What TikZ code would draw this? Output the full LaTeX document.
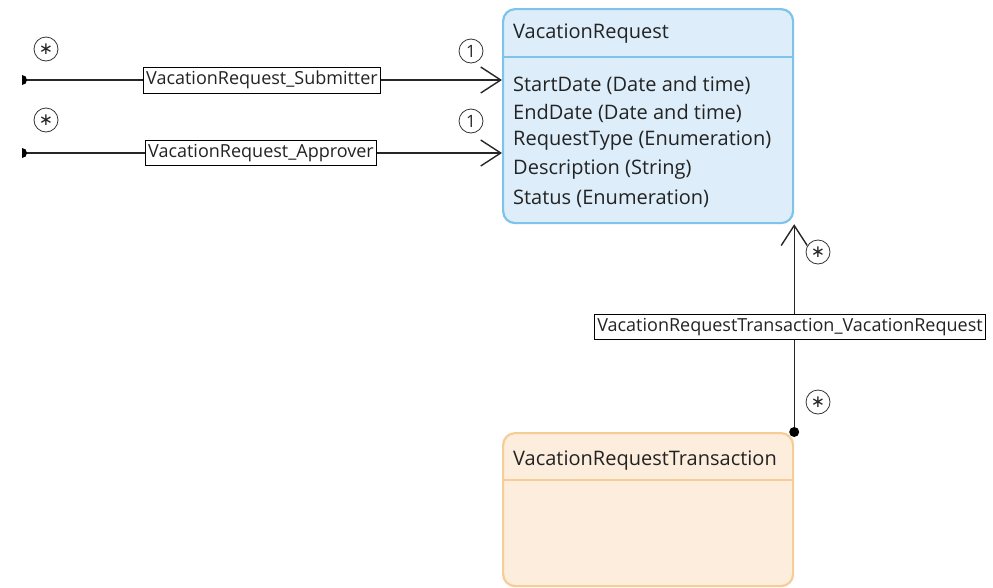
\documentclass[tikz,border=0pt]{standalone}
\usepackage{fontspec}
\setmainfont{Open Sans}
\newfontfamily\dejavu{DejaVu Sans}
\usetikzlibrary{arrows.meta}
\definecolor{vrfill}{RGB}{221,238,250}
\definecolor{vrdraw}{RGB}{125,195,235}
\definecolor{trfill}{RGB}{253,237,221}
\definecolor{trdraw}{RGB}{245,205,150}
\definecolor{txt}{RGB}{35,35,35}
\begin{document}
\begin{tikzpicture}[x=1pt,y=-1pt,
  font=\fontsize{20}{24}\selectfont,
  classbox/.style={line width=2.2pt, rounded corners=12pt, minimum width=290pt, anchor=north west, inner sep=0pt},
  txtnode/.style={anchor=west, inner sep=0pt, text=txt},
  lbl/.style={draw=black, line width=0.9pt, fill=white, inner xsep=3pt, inner ysep=4pt, text=txt, font=\fontsize{18}{20}\selectfont},
  mult/.style={circle, draw=black!80, line width=0.8pt, inner sep=0pt, minimum size=24pt, text=black!85, font=\fontsize{17}{17}\selectfont},
  conn/.style={line width=1.4pt, black!85},
  opentip/.style={-{Straight Barb[length=20pt,width=26pt,line width=1.4pt]}}
]
\useasboundingbox (0,0) rectangle (993,587);
% class boxes
\node[classbox, draw=vrdraw, fill=vrfill, minimum height=214pt] (vr) at (502,8) {};
\node[classbox, draw=trdraw, fill=trfill, minimum height=153pt] (tr) at (502,432) {};
\draw[vrdraw, line width=2pt] (vr.west |- 0,57) -- (vr.east |- 0,57);
\draw[trdraw, line width=2pt] (tr.west |- 0,480) -- (tr.east |- 0,480);
\node[txtnode] (vrt) at (513,34) {VacationRequest};
\node[txtnode] (a1) at (513,85) {StartDate (Date and time)};
\node[txtnode] (a2) at (513,113) {EndDate (Date and time)};
\node[txtnode] (a3) at (513,141) {RequestType (Enumeration)};
\node[txtnode] (a4) at (513,170) {Description (String)};
\node[txtnode] (a5) at (513,199) {Status (Enumeration)};
\node[txtnode] (trt) at (513,461) {VacationRequestTransaction};
% connectors on the left
\coordinate (s1) at (22,80);
\coordinate (s2) at (22,153);
\node[lbl] (l1) at (262,80) {VacationRequest\_Submitter};
\node[lbl] (l2) at (261,153) {VacationRequest\_Approver};
\draw[conn] (s1) -- (l1.west);
\draw[conn, opentip] (l1.east) -- (vr.west |- l1.east);
\draw[conn] (s2) -- (l2.west);
\draw[conn, opentip] (l2.east) -- (vr.west |- l2.east);
\begin{scope}
\clip (22,60) rectangle (40,170);
\fill[black] (s1) circle (5pt);
\fill[black] (s2) circle (5pt);
\end{scope}
% vertical connector
\coordinate (d) at (tr.north east);
\node[lbl] (l3) at (790,327) {VacationRequestTransaction\_VacationRequest};
\draw[conn] (d) -- (l3.south -| d);
\draw[conn, opentip] (l3.north -| d) -- (vr.south east);
\fill[black] (d) circle (5pt);
% multiplicities
\node[mult] (m1) at (46,49) {\dejavu ∗};
\node[mult] (m2) at (46,120) {\dejavu ∗};
\node[mult] (m3) at (471,51) {1};
\node[mult] (m4) at (471,121) {1};
\node[mult] (m5) at (818,252) {\dejavu ∗};
\node[mult] (m6) at (818,402) {\dejavu ∗};
\end{tikzpicture}
\end{document}
